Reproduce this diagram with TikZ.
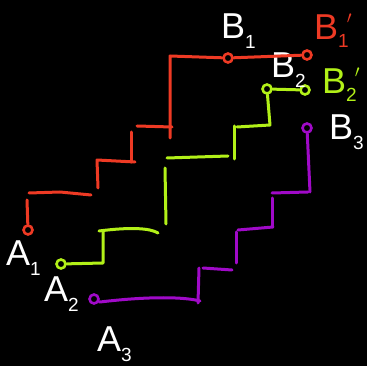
\documentclass[tikz,border=0pt]{standalone}
\usepackage{fontspec}
\setmainfont{Liberation Sans}
\usetikzlibrary{positioning}

\definecolor{redpen}{RGB}{238,58,36}
\definecolor{greenpen}{RGB}{178,240,24}
\definecolor{purplepen}{RGB}{160,10,200}

% letter with a lowered index (and optional prime)
\newcommand{\lowidx}[2]{#1\raisebox{-0.28em}{\fontsize{19}{19}\selectfont #2}}
\newcommand{\lowidxp}[2]{#1\raisebox{-0.22em}{\fontsize{19}{19}\selectfont #2}\hspace{-2pt}\raisebox{0.2em}{\fontsize{24}{24}\selectfont $'$}}

\begin{document}
\begin{tikzpicture}[
    x=1pt, y=-1pt,
    pen/.style={line width=3pt, line cap=round, line join=round},
    dot/.style={circle, draw, line width=2.6pt, inner sep=0pt, minimum size=9pt},
    letter/.style={text=white, font=\fontsize{36}{36}\selectfont, inner sep=0pt, anchor=west}
]
% background
\fill[black] (0,0) rectangle (367,366);
\useasboundingbox (0,0) rectangle (367,366);

% ============ END POINTS ============
\node[dot, redpen] (a1) at (28,230) {};
\node[dot, redpen] (b1) at (228,58) {};
\node[dot, redpen] (b1p) at (307,55) {};
\node[dot, greenpen] (a2) at (61,264) {};
\node[dot, greenpen] (b2) at (267,89) {};
\node[dot, greenpen] (b2p) at (305,90) {};
\node[dot, purplepen] (a3) at (94,299) {};
\node[dot, purplepen] (b3p) at (307,128) {};

% ============ LABELS ============
\node[letter] (a1lbl) at (6,258) {\lowidx{A}{1}};
\node[letter] (a2lbl) at (44,294) {\lowidx{A}{2}};
\node[letter] (a3lbl) at (97,344) {\lowidx{A}{3}};
\node[letter] (b1lbl) at (221,31) {\lowidx{B}{1}};
\node[letter] (b2lbl) at (271,70) {\lowidx{B}{2}};
\node[letter] (b3lbl) at (329,132) {\lowidx{B}{3}};
\node[letter, text=redpen] (b1plbl) at (314,31) {\lowidxp{B}{1}};
\node[letter, text=greenpen] (b2plbl) at (322,85) {\lowidxp{B}{2}};

% ============ RED STAIRS ============
\draw[pen, redpen] (a1) -- (27,200);
\draw[pen, redpen] (29,193) -- (60,192) -- (91,195);
\draw[pen, redpen] (98,188) -- (97,160) -- (135,162);
\draw[pen, redpen] (131,162) -- (131,132);
\draw[pen, redpen] (137,126) -- (172,127);
\draw[pen, redpen] (170,138) -- (170,56) -- (b1);
\draw[pen, redpen] (b1) -- (b1p);

% ============ GREEN STAIRS ============
\draw[pen, greenpen] (a2) -- (103,263) -- (103,232);
\draw[pen, greenpen] (99,231) .. controls (130,227) and (150,228) .. (158,233);
\draw[pen, greenpen] (165,168) -- (166,224);
\draw[pen, greenpen] (167,158) -- (228,156);
\draw[pen, greenpen] (234,159) -- (234,126);
\draw[pen, greenpen] (237,127) -- (270,125) -- (b2);
\draw[pen, greenpen] (b2) -- (b2p);

% ============ PURPLE STAIRS ============
\draw[pen, purplepen] (a3) -- (100,302) .. controls (150,296) and (185,297) .. (200,301);
\draw[pen, purplepen] (198,303) -- (199,268);
\draw[pen, purplepen] (203,268) -- (232,270);
\draw[pen, purplepen] (236,263) -- (236,232);
\draw[pen, purplepen] (238,230) -- (273,227);
\draw[pen, purplepen] (272,226) -- (272,198);
\draw[pen, purplepen] (272,193) -- (308,192);
\draw[pen, purplepen] (310,192) -- (b3p);

\end{tikzpicture}
\end{document}
